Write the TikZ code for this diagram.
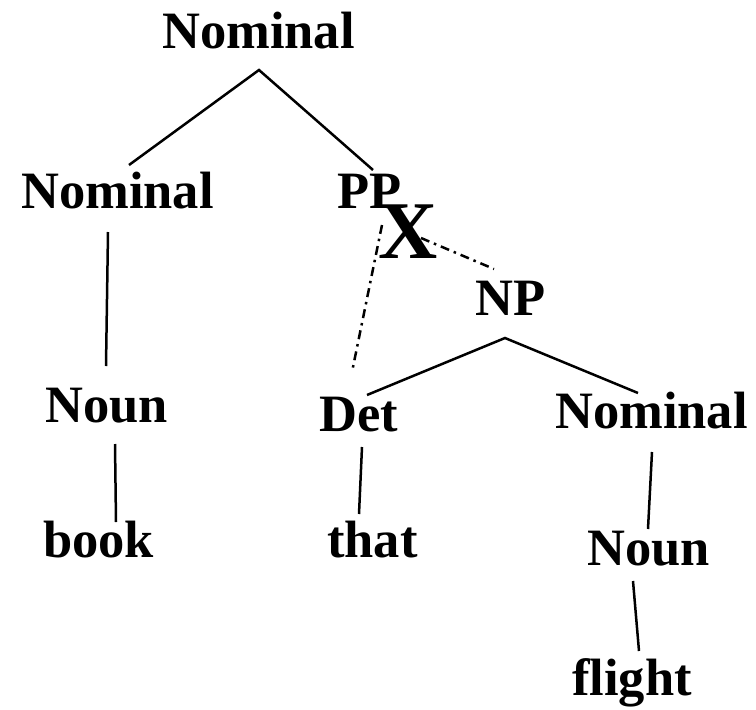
\documentclass[tikz,border=0pt]{standalone}
\usepackage{fontspec}
\setmainfont{Liberation Serif}
\begin{document}
\begin{tikzpicture}[x=1pt,y=-1pt,
  lbl/.style={anchor=base west,inner sep=0pt,font=\fontsize{52.5}{60}\selectfont\bfseries},
  bigx/.style={anchor=base west,inner sep=0pt,font=\fontsize{82}{90}\selectfont\bfseries},
  edge/.style={line width=2.5pt},
  dashdot/.style={line width=2.5pt,dash pattern=on 9pt off 5pt on 2.5pt off 5pt}]
\useasboundingbox (0,0) rectangle (756,710);
% labels
\node[lbl] (nom0) at (162,48) {Nominal};
\node[lbl] (nom1) at (21,208) {Nominal};
\node[lbl] (pp) at (337,208) {PP};
\node[bigx] (x) at (378,258) {X};
\node[lbl] (np) at (475,315) {NP};
\node[lbl] (noun1) at (45,422) {Noun};
\node[lbl] (det) at (319,431) {Det};
\node[lbl] (nom2) at (555,428) {Nominal};
\node[lbl] (book) at (43,557) {book};
\node[lbl] (that) at (327,557) {that};
\node[lbl] (noun2) at (587,565) {Noun};
\node[lbl] (flight) at (572,695) {flight};
% connector end points
\coordinate (nom0b) at (259,70);
\coordinate (nom1t) at (129,165);
\coordinate (ppt) at (373,170);
\coordinate (nom1b) at (108,232);
\coordinate (noun1t) at (106,366);
\coordinate (noun1b) at (115,444);
\coordinate (bookt) at (116,522);
\coordinate (ppb) at (382,225);
\coordinate (dett) at (352,372);
\coordinate (ppr) at (421,238);
\coordinate (npl) at (494,269);
\coordinate (npb) at (505,338);
\coordinate (detr) at (367,395);
\coordinate (nom2t) at (638,393);
\coordinate (detb) at (362,447);
\coordinate (thatt) at (359,514);
\coordinate (nom2b) at (652,452);
\coordinate (noun2t) at (648,529);
\coordinate (noun2b) at (633,581);
\coordinate (flightt) at (639,651);
% connectors
\draw[edge] (nom1t) -- (nom0b) -- (ppt);
\draw[edge] (nom1b) -- (noun1t);
\draw[edge] (noun1b) -- (bookt);
\draw[dashdot] (ppb) -- (dett);
\draw[dashdot] (ppr) -- (npl);
\draw[edge] (detr) -- (npb) -- (nom2t);
\draw[edge] (detb) -- (thatt);
\draw[edge] (nom2b) -- (noun2t);
\draw[edge] (noun2b) -- (flightt);
\end{tikzpicture}
\end{document}
